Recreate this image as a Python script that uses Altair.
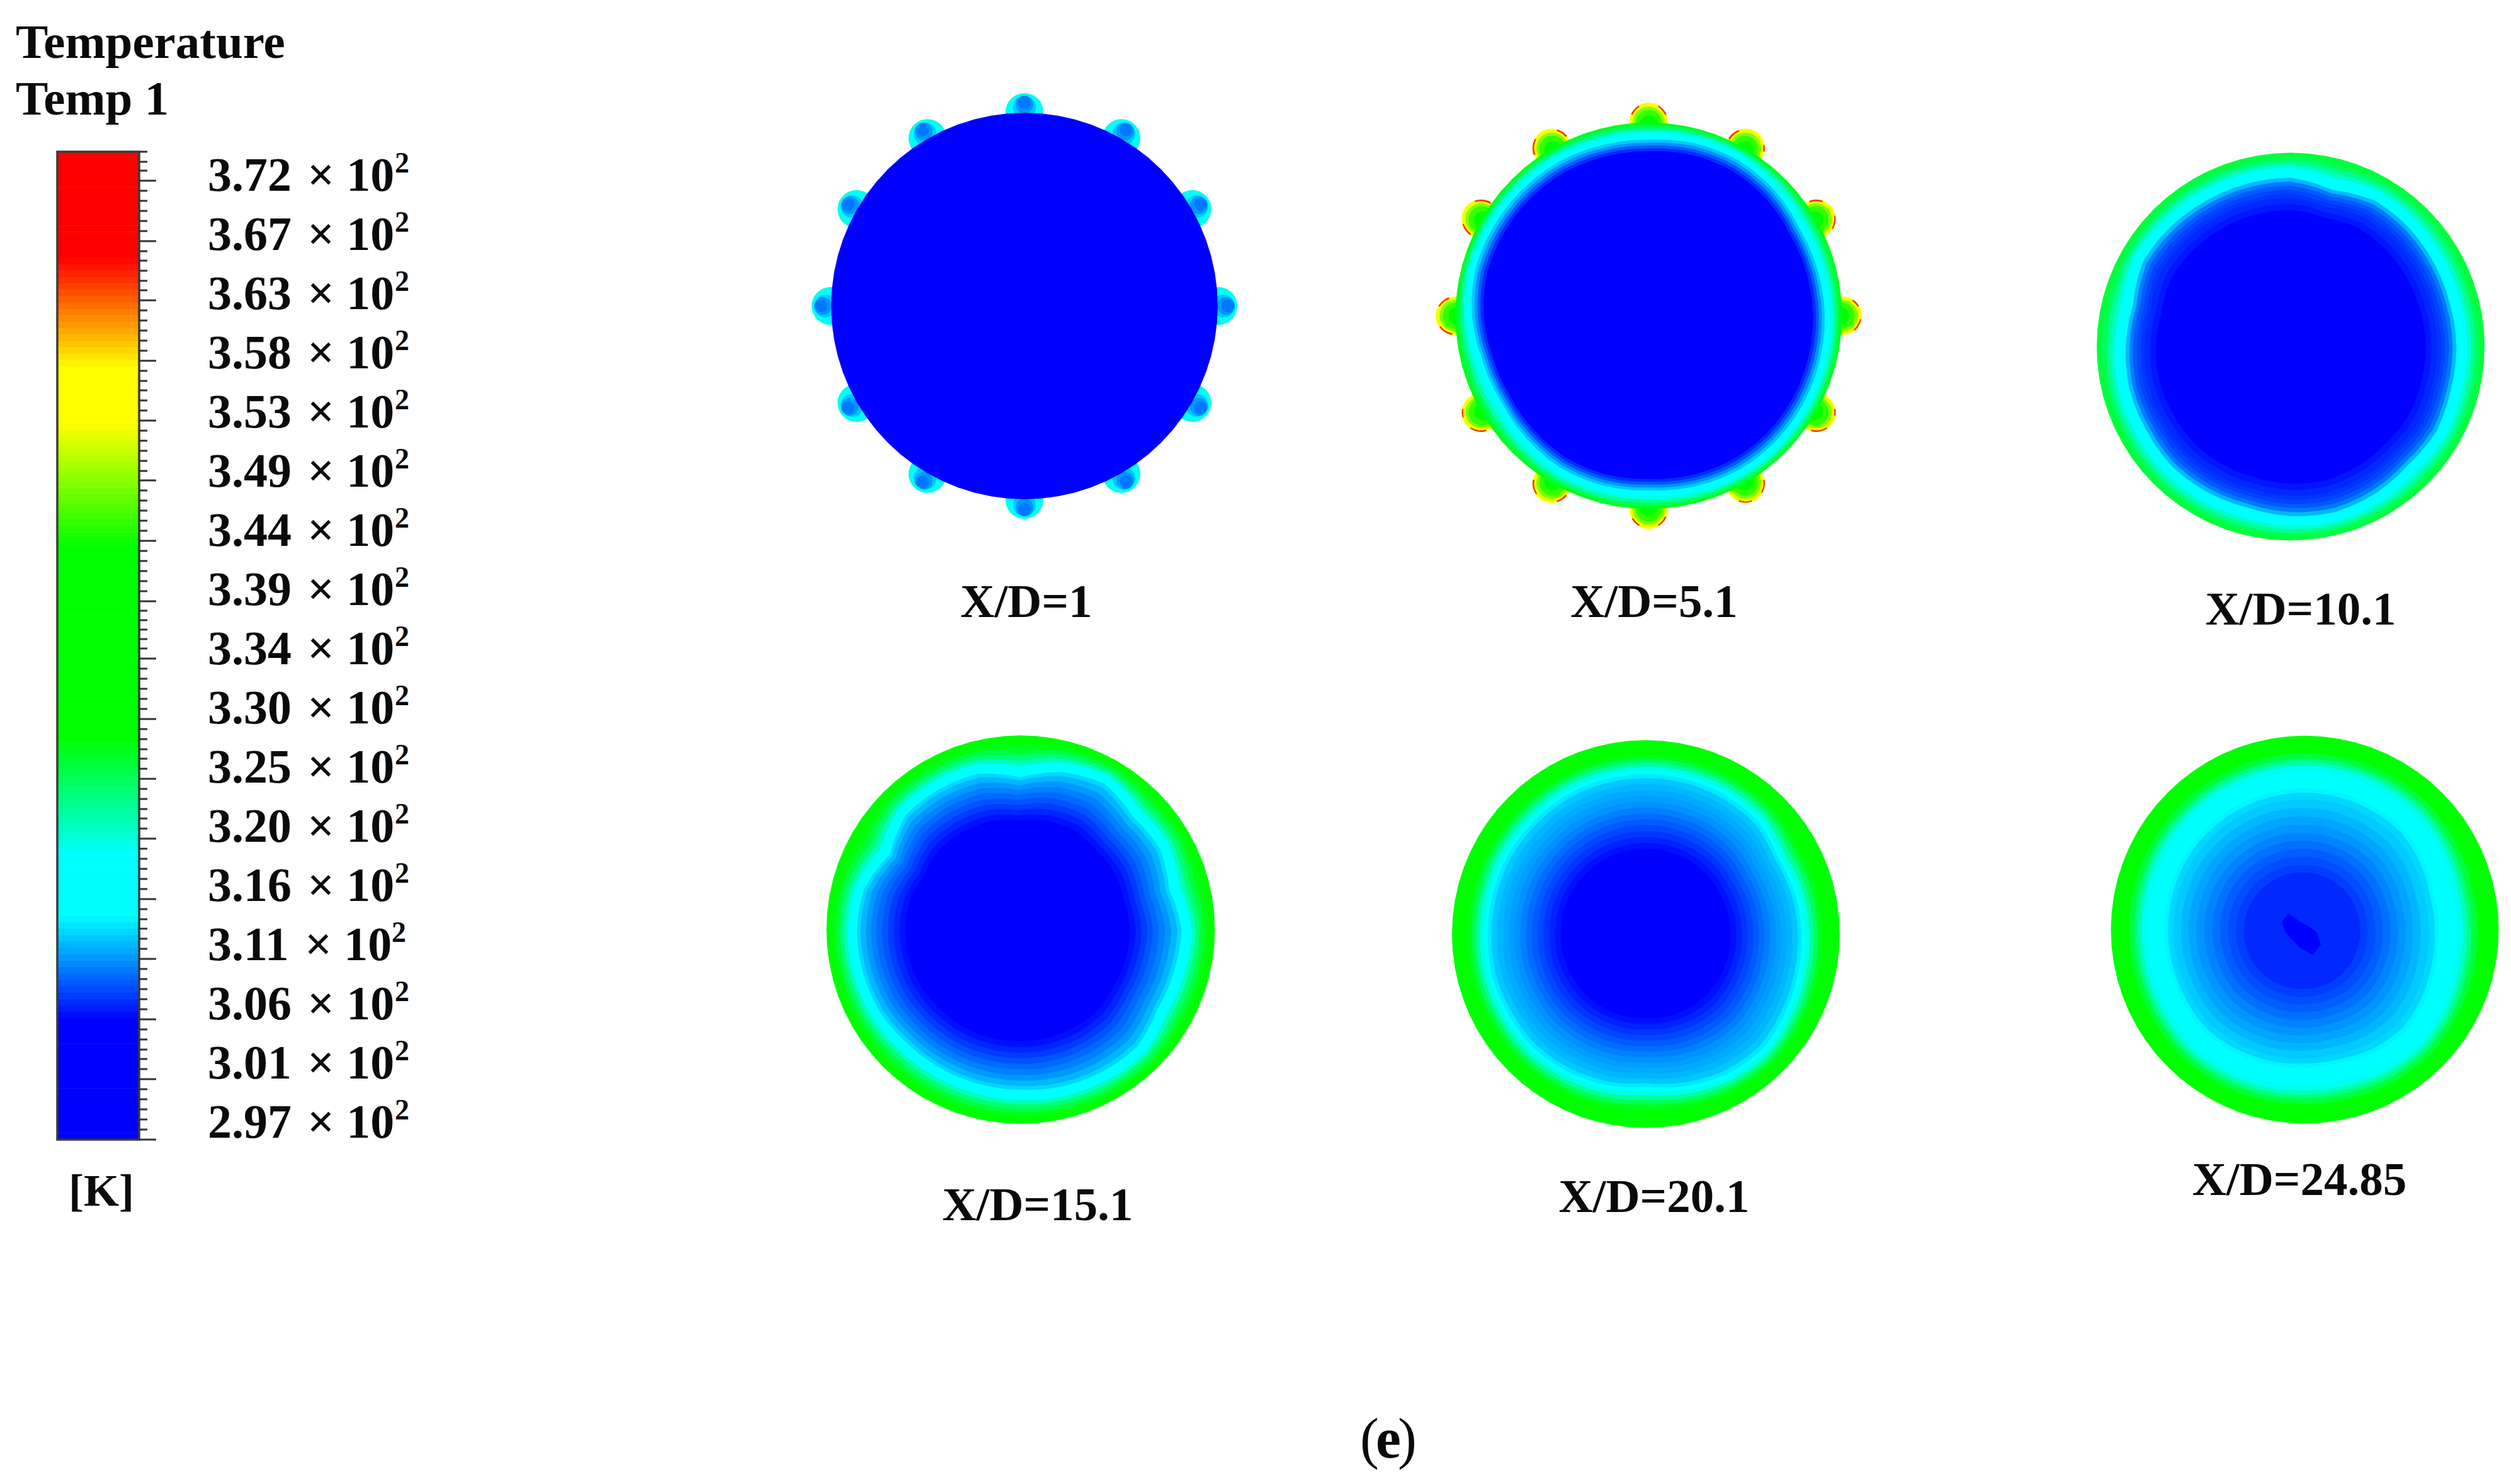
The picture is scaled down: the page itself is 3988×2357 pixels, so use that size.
import math
import numpy as np
import pandas as pd
import altair as alt

SERIF = "Liberation Serif"

# ---- colour map (temperature in K -> colour)
cmap_T = [297, 306.1, 314.3, 319.0, 328.1, 343.1, 352.8, 357.1, 365.7, 374.3]
cmap_c = ["#0000ff", "#0000ff", "#00ffff", "#00ffff", "#00ff00", "#00ff00",
          "#ffff00", "#ffff00", "#ff0000", "#ff0000"]

# ---- colour bar
bar_left, bar_right = 91, 221
bar_top_T, bar_bottom_T = 374.3, 297.0
bar_top_y, bar_bottom_y = 241, 1810
bar_step = 0.5
major_tick_y = [287, 383, 477, 573, 668, 763, 859, 955, 1046, 1142, 1237, 1332, 1428, 1523, 1619, 1714, 1810]
minor_tick_y = [241, 257, 271, 303, 319, 335, 351, 367, 399, 414, 430, 446, 461, 493, 509, 525, 541, 557,
                589, 605, 620, 636, 652, 684, 700, 716, 732, 748, 779, 795, 811, 827, 843, 875, 891, 907,
                923, 939, 970, 985, 1000, 1015, 1030, 1062, 1078, 1094, 1110, 1126, 1158, 1174, 1190, 1205,
                1221, 1253, 1269, 1285, 1300, 1316, 1348, 1364, 1380, 1396, 1412, 1444, 1460, 1475, 1491,
                1507, 1539, 1555, 1571, 1587, 1603, 1635, 1651, 1667, 1682, 1698, 1730, 1746, 1762, 1778, 1794]
tick_numbers = ["3.72", "3.67", "3.63", "3.58", "3.53", "3.49", "3.44", "3.39", "3.34", "3.30", "3.25", "3.20",
                "3.16", "3.11", "3.06", "3.01", "2.97"]
label_baseline = [303, 397, 491, 585, 679, 773, 867, 961, 1055, 1149, 1243, 1337, 1431, 1525, 1619, 1713, 1807]
times_x = [488, 488, 488, 488, 488, 488, 488, 488, 488, 488, 488, 488, 488, 484, 488, 488, 488]
power_x = [627, 627, 627, 627, 627, 627, 627, 627, 627, 627, 627, 627, 627, 622, 627, 627, 627]

# ---- text
head_text = ["Temperature", "Temp 1", "[K]"]
head_x = [25, 25, 161]
head_y = [92, 182, 1915]
cap_text = ["X/D=1", "X/D=5.1", "X/D=10.1", "X/D=15.1", "X/D=20.1", "X/D=24.85"]
cap_x = [1630, 2627, 3654, 1648, 2627, 3652]
cap_y = [980, 980, 992, 1938, 1925, 1898]

# ---- discs: centre, radius
disc_x = [1627, 2618.5, 3638, 1621, 2614, 3660.5]
disc_y = [486, 501.5, 550.5, 1476.5, 1483.5, 1476.5]
disc_R = [307, 307, 308, 308.5, 308, 308]

# radial temperature profile of every section, outside to inside (fraction of R, K)
ring_r = [
    [1.0],
    [1, .985, .97, .955, .94, .925, .91, .895, .88, .865, .85],
    [1, .975, .955, .935, .915, .895, .875, .86, .84, .82, .80, .78, .76, .73, .70],
    [1, .97, .95, .93, .91, .89, .87, .855, .84, .82, .79, .76, .73, .70, .67, .64, .61, .58],
    [1, .95, .92, .90, .88, .86, .84, .83, .82, .80, .77, .74, .71, .68, .65, .62, .59, .56, .53, .50, .47, .44],
    [1, .93, .90, .87, .85, .83, .80, .77, .74, .71, .69, .66, .62, .58, .54, .50, .46, .42, .38, .34, .30],
]
ring_T = [
    [297],
    [327, 325, 322.5, 320, 317, 314.8, 312.5, 310.8, 309, 307.5, 306],
    [326, 325, 323, 321, 319, 317.5, 315, 312, 310, 309, 308.3, 307.8, 307.4, 306.8, 306],
    [328, 327.5, 326, 324, 321.5, 319, 317, 315, 313, 312, 311, 310.2, 309.5, 308.8, 308, 307.3, 306.6, 306],
    [329, 328.5, 327, 325, 322.5, 320, 317, 315, 313.6, 312.5, 312, 311.6, 311.2, 310.8, 310.2, 309.6,
     309, 308.4, 307.8, 307.2, 306.6, 306],
    [329, 328, 326, 323.5, 321.5, 319.5, 318, 316.5, 315, 314, 313, 312.6, 312, 311.4, 310.9, 310.3, 309.7,
     309.1, 308.6, 308.1, 307.4],
]
# cyan/blue boundary read every 15 degrees (anticlockwise from east), fraction of R
nominal = [1.0, .925, .875, .86, .835, .72]
boundary = [
    None,
    [.926, .92, .916, .935, .945, .94, .926, .93, .938, .94, .942, .945, .93, .905, .897, .91, .925, .925, .918, .93,
     .94, .94, .935, .93],
    [.87, .865, .87, .88, .885, .85, .887, .885, .885, .89, .895, .855, .865, .875, .875, .885, .88, .875, .89, .90,
     .89, .875, .885, .87],
    [.85, .81, .85, .84, .89, .86, .80, .85, .855, .855, .79, .85, .862, .86, .858, .845, .842, .842, .843, .855,
     .865, .872, .835, .838],
    [.817, .81, .80, .835, .84, .84, .84, .84, .84, .835, .835, .83, .83, .837, .835, .84, .83, .82, .80, .825, .85,
     .862, .84, .825],
    [.70, .70, .72, .74, .74, .74, .74, .74, .74, .74, .74, .735, .735, .735, .74, .75, .74, .73, .72, .72, .74, .75,
     .73, .71],
]
# how far the inner contours are shifted from the disc centre (px)
core_dx = [0, 0, 0, -4, 0, -4]
core_dy = [0, 0, 0, 0, 0, 2]

# coldest spot of the last section: radius (px) every 30 degrees
blob_T = 306
blob_x, blob_y = 3651.5, 1480.4
blob_r = [28, 18, 15, 18, 34, 32, 22, 17, 17, 24, 42, 40]

# nozzles round sections 1 and 2: radius (px), temperature, outward shift (px)
bump_r = [[30, 27, 23, 18, 14, 10], [30.5, 28, 25, 21, 14, 9]]
bump_T = [[320, 316.5, 314.5, 312.5, 311, 310], [354, 352, 348, 345, 342, 338]]
bump_s = [[1, 1, 4, 9, 13, 16], [1, 1, 0, -1, -3, -6]]
bump_angle = [0, 30, 60, 90, 120, 150, 180, 210, 240, 270, 300, 330]
# hot crescents on the nozzles of section 2: (start, end) degrees per nozzle
hot_arcs = [
    [(-50, -10), (30, 55)], [(-30, 10), (70, 110)], [(110, 150), (-10, 10)], [(120, 155), (25, 60)],
    [(150, 200), (40, 75)], [(60, 110), (195, 235)], [(110, 150), (215, 260)], [(235, 285), (170, 195)],
    [(170, 215), (285, 320)], [(210, 240), (300, 335)], [(330, 370), (250, 290)], [(255, 305), (350, 370)],
]
hot_T = 364


def polygon(pts, T):
    ring = [[float(x), float(y)] for x, y in pts]
    ring.append(ring[0])
    return {"type": "Feature", "geometry": {"type": "Polygon", "coordinates": [ring]}, "properties": {"T": T}}


def circle(cx, cy, r, T, n=48):
    return polygon([(cx + r * math.cos(2 * math.pi * i / n), cy + r * math.sin(2 * math.pi * i / n)) for i in range(n)], T)


features = []

# nozzles first, the disc covers their inner half
for d in (0, 1):
    for k, a in enumerate(bump_angle):
        ca, sa = math.cos(math.radians(a)), -math.sin(math.radians(a))
        bx, by = disc_x[d] + disc_R[d] * ca, disc_y[d] + disc_R[d] * sa
        for j, (r, T, s) in enumerate(zip(bump_r[d], bump_T[d], bump_s[d])):
            features.append(circle(bx + s * ca, by + s * sa, r, T))
            if d == 1 and j == 0:
                for a0, a1 in hot_arcs[k]:
                    angs = np.radians(np.linspace(a0, a1, 10))
                    outer = [(bx + 31 * math.cos(t), by - 31 * math.sin(t)) for t in angs]
                    inner = [(bx + 27 * math.cos(t), by - 27 * math.sin(t)) for t in angs[::-1]]
                    features.append(polygon(outer + inner, hot_T))

for d in range(6):
    cx, cy, R = disc_x[d], disc_y[d], disc_R[d]
    nom = nominal[d]
    for r, T in zip(ring_r[d], ring_T[d]):
        w = (1 - r) / (1 - nom) if r > nom else (r / nom) ** 2
        sh = max(0.0, min(1.0, (nom - r) / 0.15))
        pts = []
        n = 72
        for i in range(n):
            deg = i * 360 / n
            if boundary[d] is None:
                f = 1.0
            else:
                p = deg / 15
                i0 = int(p) % 24
                i1 = (i0 + 1) % 24
                b = boundary[d][i0] + (boundary[d][i1] - boundary[d][i0]) * (p - int(p))
                f = 1 + (b / nom - 1) * w
            rr = R * r * f
            pts.append((cx + core_dx[d] * sh + rr * math.cos(math.radians(deg)),
                        cy + core_dy[d] * sh - rr * math.sin(math.radians(deg))))
        features.append(polygon(pts, T))

features.append(polygon([(blob_x + r * math.cos(math.radians(30 * i)), blob_y - r * math.sin(math.radians(30 * i)))
                         for i, r in enumerate(blob_r)], blob_T))

# ---- shared scales
W, H = 3972, 2341
xs = alt.Scale(domain=[8, 3980], nice=False, zero=False)
ys = alt.Scale(domain=[2349, 8], nice=False, zero=False)
cs = alt.Scale(domain=cmap_T, range=cmap_c, interpolate="rgb", clamp=True)
X = lambda f, **k: alt.X(f, scale=xs, axis=None, **k)
Y = lambda f, **k: alt.Y(f, scale=ys, axis=None, **k)
color = lambda f: alt.Color(f, scale=cs, legend=None)

sections = (
    alt.Chart(alt.Data(values=features))
    .mark_geoshape()
    .encode(color=color("properties.T:Q"))
    .project(type="identity", scale=1, translate=[-8, -8])
)

# colour bar stripes
k = (bar_bottom_y - bar_top_y) / (bar_top_T - bar_bottom_T)
levels = list(np.arange(bar_bottom_T, bar_top_T, bar_step)) + [bar_top_T]
fine = []
for a, b in zip(levels[:-1], levels[1:]):
    fine.append(dict(T=float(a), x=bar_left, x2=bar_right,
                     y=bar_bottom_y - (a - bar_bottom_T) * k, y2=bar_bottom_y - (b - bar_bottom_T) * k - 0.6))
bar = alt.Chart(pd.DataFrame(fine)).mark_rect().encode(
    x=X("x:Q"), x2="x2:Q", y=Y("y:Q"), y2="y2:Q", color=color("T:Q"))

frame = alt.Chart(pd.DataFrame({"x": [bar_left], "x2": [bar_right], "y": [bar_top_y], "y2": [bar_bottom_y]})).mark_rect(
    filled=False, stroke="#3a3a3a", strokeWidth=3.5).encode(x=X("x:Q"), x2="x2:Q", y=Y("y:Q"), y2="y2:Q")

major = alt.Chart(pd.DataFrame({"y": major_tick_y, "x": bar_right, "x2": 248})).mark_rule(
    color="#333333", strokeWidth=3).encode(x=X("x:Q"), x2="x2:Q", y=Y("y:Q"))
minor = alt.Chart(pd.DataFrame({"y": minor_tick_y, "x": bar_right, "x2": 234})).mark_rule(
    color="#333333", strokeWidth=3).encode(x=X("x:Q"), x2="x2:Q", y=Y("y:Q"))


def text_layer(t, x, y, size=75, align="left", weight="bold"):
    return alt.Chart(pd.DataFrame({"t": t, "x": x, "y": y})).mark_text(
        font=SERIF, fontWeight=weight, fontSize=size, align=align, baseline="alphabetic", color="#0a0a0a"
    ).encode(x=X("x:Q"), y=Y("y:Q"), text="t:N")


num_labels = text_layer(tick_numbers, [330] * 17, label_baseline, 76)
times_labels = text_layer(["× 10"] * 17, times_x, label_baseline, 76)
power_labels = text_layer(["2"] * 17, power_x, [v - 29 for v in label_baseline], 46)
head = text_layer(head_text[:2], head_x[:2], head_y[:2], 77)
unit = text_layer(head_text[2:], head_x[2:], head_y[2:], 72, align="center")
caps = text_layer(cap_text, cap_x, cap_y, 75, align="center")
panel_a = text_layer(["(", ")"], [2160, 2220], [2315, 2315], 90, weight="normal")
panel_b = text_layer(["e"], [2205], [2315], 90, align="center")

chart = alt.layer(sections, bar, frame, major, minor, num_labels, times_labels, power_labels,
                  head, unit, caps, panel_a, panel_b).properties(
    width=W, height=H, padding=0, autosize=alt.AutoSizeParams(type="none")
).configure_view(stroke=None).resolve_scale(color="shared")

chart.save("out.html", embed_options={"renderer": "svg", "actions": False})
